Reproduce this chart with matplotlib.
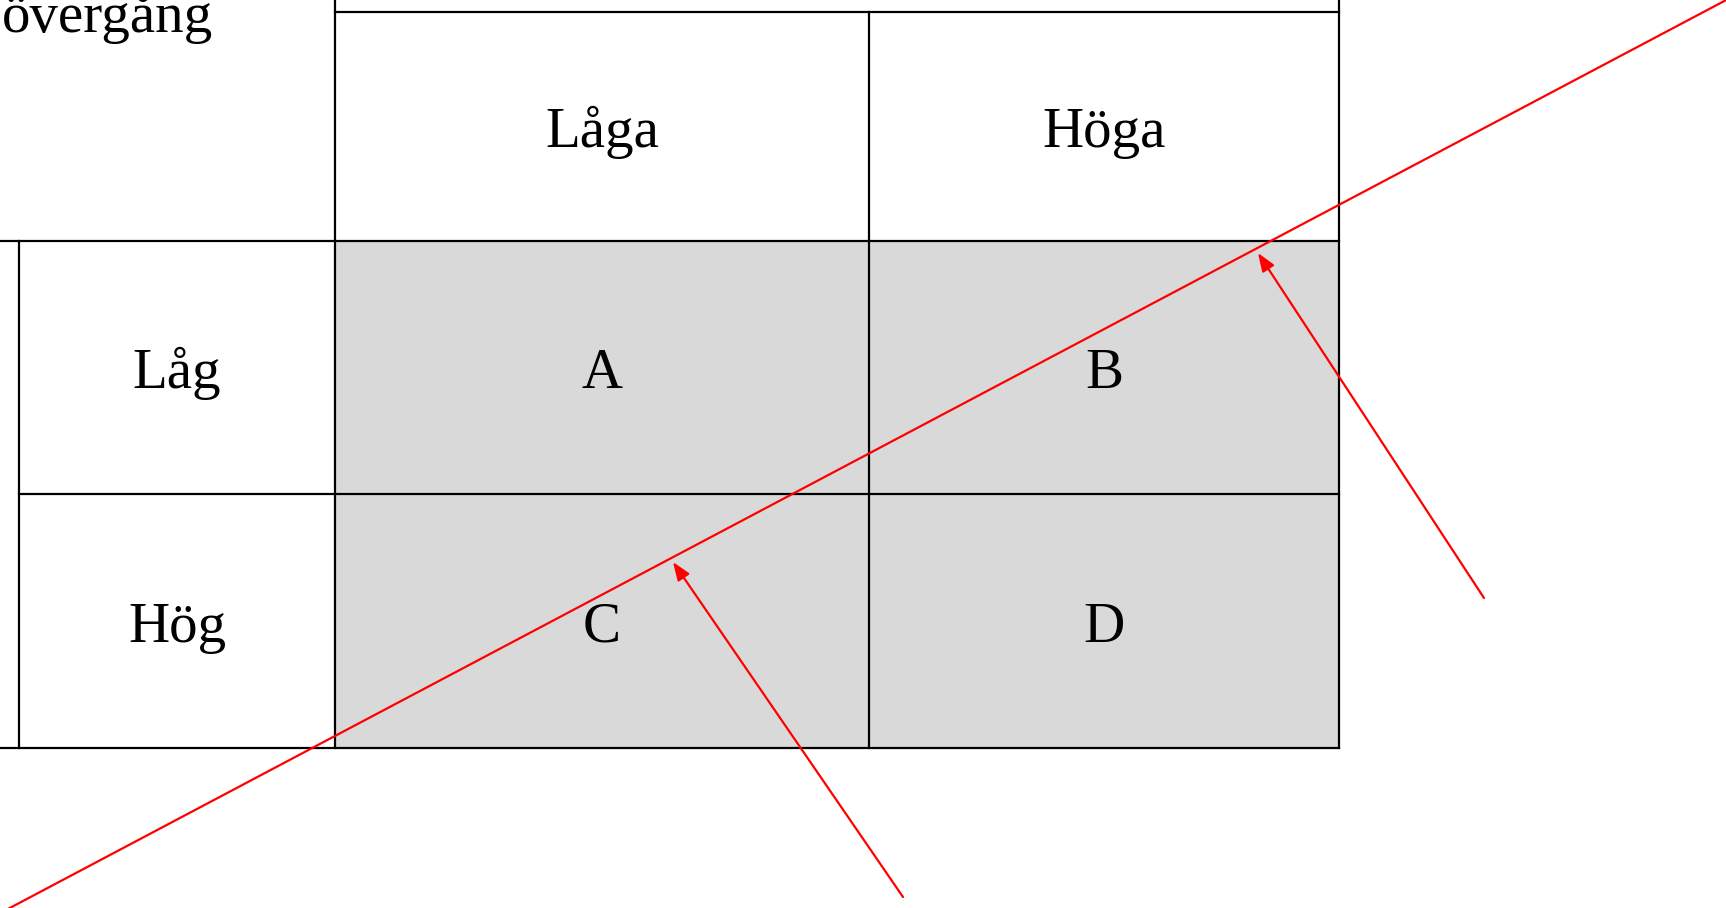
import matplotlib
matplotlib.use("Agg")
import matplotlib.pyplot as plt
from matplotlib.patches import Rectangle, FancyArrowPatch

# ---- content ----
header_text = "övergång"
col_labels = ["Låga", "Höga"]
row_labels = ["Låg", "Hög"]
cell_labels = [["A", "B"], ["C", "D"]]

# ---- layout (pixel coordinates of the diagram) ----
W, H = 1726, 908
col_edges = [335, 869, 1339]      # x edges of value columns
row_edges = [241, 494, 748]       # y edges of value rows
top_rule = 11.7
label_col = (19, 335)
red_line = ((6, 910), (1730, -2))
arrows = [((903, 897), (673, 562)), ((1484, 598), (1258, 253))]

FS = 41
plt.rcParams['font.family'] = ['Liberation Serif', 'DejaVu Serif']

fig = plt.figure(figsize=(W / 100, H / 100), dpi=100)
ax = fig.add_axes([0, 0, 1, 1])
ax.set_xlim(0, W)
ax.set_ylim(H, 0)
ax.axis('off')

gray = '#d9d9d9'
lw = 1.6
k = 'black'

# gray value cells
ax.add_patch(Rectangle((col_edges[0], row_edges[0]), col_edges[-1] - col_edges[0],
                       row_edges[-1] - row_edges[0], facecolor=gray, edgecolor='none', zorder=0))

# grid lines
ax.plot([col_edges[0], col_edges[-1]], [top_rule, top_rule], color=k, lw=lw)
for x in (col_edges[0], col_edges[-1]):
    ax.plot([x, x], [0, row_edges[-1]], color=k, lw=lw)
ax.plot([col_edges[1], col_edges[1]], [top_rule, row_edges[-1]], color=k, lw=lw)
ax.plot([0, col_edges[-1]], [row_edges[0], row_edges[0]], color=k, lw=lw)
ax.plot([label_col[0], col_edges[-1]], [row_edges[1], row_edges[1]], color=k, lw=lw)
ax.plot([0, col_edges[-1]], [row_edges[2], row_edges[2]], color=k, lw=lw)
ax.plot([label_col[0], label_col[0]], [row_edges[0], row_edges[-1]], color=k, lw=lw)

# texts
off = 21
ax.text(2, 32, header_text, fontsize=FS, ha='left', va='baseline')
for j, lab in enumerate(col_labels):
    cx = (col_edges[j] + col_edges[j + 1]) / 2
    cy = (top_rule + row_edges[0]) / 2 + off
    ax.text(cx, cy, lab, fontsize=FS, ha='center', va='baseline')
for i, lab in enumerate(row_labels):
    cy = (row_edges[i] + row_edges[i + 1]) / 2 + off
    cx = (label_col[0] + label_col[1]) / 2
    ax.text(cx, cy, lab, fontsize=FS, ha='center', va='baseline')
    for j in range(2):
        cx2 = (col_edges[j] + col_edges[j + 1]) / 2
        ax.text(cx2, cy, cell_labels[i][j], fontsize=FS, ha='center', va='baseline')

# red diagonal line
(x0, y0), (x1, y1) = red_line
ax.plot([x0, x1], [y0, y1], color='red', lw=1.6, zorder=5)

# red arrows
for tail, tip in arrows:
    ar = FancyArrowPatch(tail, tip, arrowstyle='-|>,head_length=11,head_width=4.2',
                         mutation_scale=1, color='red', lw=1.6,
                         shrinkA=0, shrinkB=0, zorder=6)
    ax.add_patch(ar)

fig.savefig('out.png', dpi=100)
